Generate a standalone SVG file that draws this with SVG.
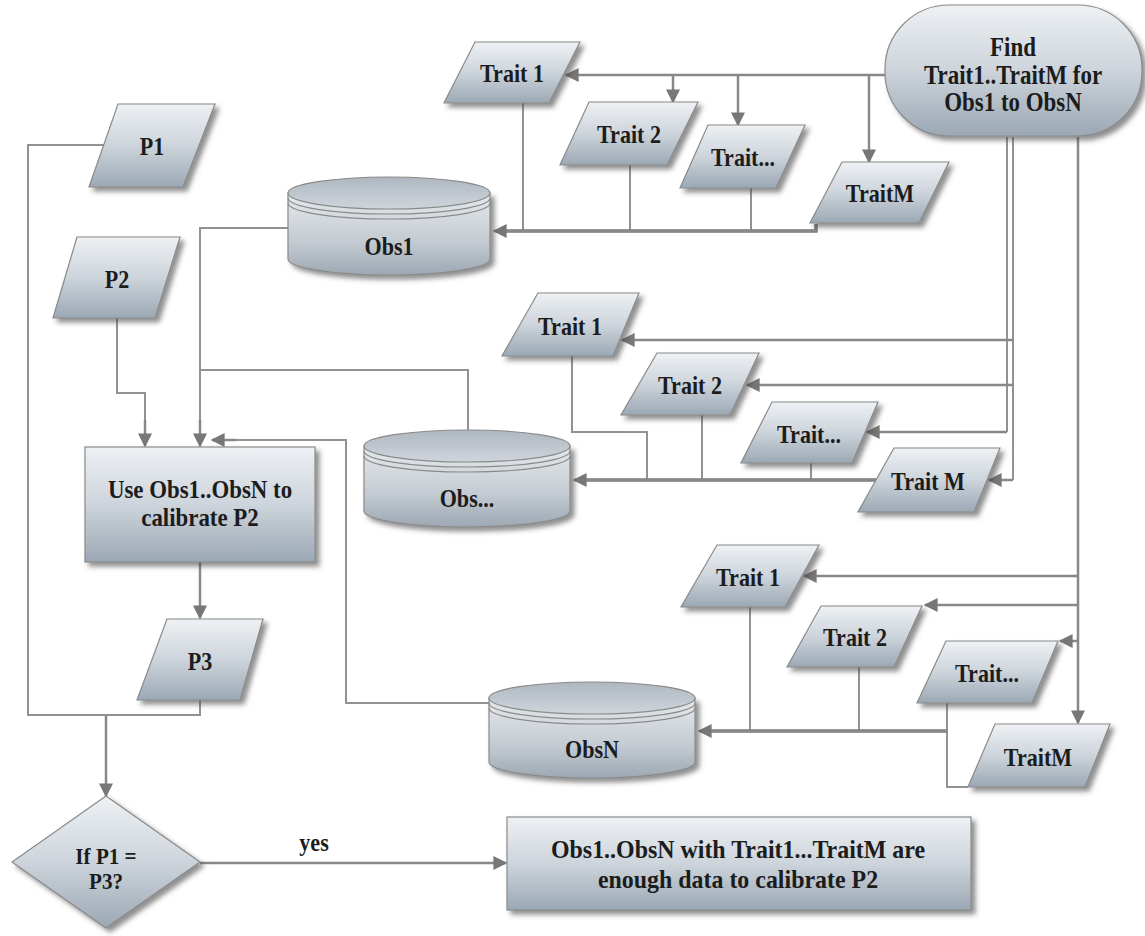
<svg xmlns="http://www.w3.org/2000/svg" width="1145" height="936" viewBox="0 0 1145 936">
<defs>
<linearGradient id="gShape" x1="0" y1="0" x2="0" y2="1">
<stop offset="0" stop-color="#eef1f4"/><stop offset="0.5" stop-color="#cdd4db"/><stop offset="1" stop-color="#9ba8b4"/>
</linearGradient>
<linearGradient id="gBody" x1="0" y1="0" x2="0" y2="1">
<stop offset="0" stop-color="#e6e9ec"/><stop offset="0.6" stop-color="#c3cad1"/><stop offset="1" stop-color="#9da8b3"/>
</linearGradient>
<linearGradient id="gTop" x1="0" y1="0" x2="0" y2="1">
<stop offset="0" stop-color="#aeb7c0"/><stop offset="1" stop-color="#cfd5db"/>
</linearGradient>
<filter id="sh" x="-10%" y="-10%" width="130%" height="140%">
<feDropShadow dx="4" dy="4" stdDeviation="2.5" flood-color="#444" flood-opacity="0.6"/>
</filter>
<marker id="ar" viewBox="0 0 10 10" refX="9" refY="5" markerWidth="17" markerHeight="14" markerUnits="userSpaceOnUse" orient="auto">
<path d="M0,0 L10,5 L0,10 Z" fill="#777"/>
</marker>
<style>
.s{fill:url(#gShape);stroke:#8a8a8a;stroke-width:1.2;filter:url(#sh)}
.body{fill:url(#gBody);stroke:#8a8a8a;stroke-width:1.2}
.top{fill:url(#gTop);stroke:#8a8a8a;stroke-width:1.2}
.ring{fill:none;stroke:#8a8a8a;stroke-width:1.2}
.t{font-family:"Liberation Serif","Times New Roman",serif;font-weight:bold;font-size:26px;fill:#1c1c1c;text-anchor:middle}
.c{fill:none;stroke:#929292;stroke-width:2}
.ck{fill:none;stroke:#7e7e7e;stroke-width:3.5}
.ca{fill:none;stroke:#888;stroke-width:2.5;marker-end:url(#ar)}
</style>
</defs>

<g id="connectors">
<path class="ca" d="M886 75 H566"/>
<path class="ca" d="M673 75 V102"/>
<path class="ca" d="M738 75 V125"/>
<path class="ca" d="M869 75 V162"/>
<path class="c" d="M523 103 V231"/>
<path class="c" d="M630 165 V231"/>
<path class="c" d="M751 188 V231"/>
<path class="ck" d="M816 224 V231 H500"/>
<path class="ca" d="M816 231 H494"/>
<path class="c" d="M1007 137 V432"/>
<path class="ca" d="M1007 432 H867"/>
<path class="c" d="M1013 137 V480"/>
<path class="ca" d="M1013 480 H989"/>
<path class="ca" d="M1013 340 H622"/>
<path class="ca" d="M1013 385 H747"/>
<path class="c" d="M572 356 V432 H647 V480"/>
<path class="c" d="M702 415 V480"/>
<path class="c" d="M811 463 V480"/>
<path class="ck" d="M876 480 H580"/>
<path class="ca" d="M876 480 H574"/>
<path class="ca" d="M1078 137 V723"/>
<path class="ca" d="M1078 576 H804"/>
<path class="ca" d="M1078 605 H925"/>
<path class="ca" d="M1078 641 H1060"/>
<path class="c" d="M750 607 V731"/>
<path class="c" d="M859 667 V731"/>
<path class="c" d="M947 703 V787 H968"/>
<path class="ck" d="M947 731 H705"/>
<path class="ca" d="M947 731 H699"/>
<path class="c" d="M288 228 H200 V430"/>
<path class="ca" d="M200 420 V446"/>
<path class="c" d="M468 430 V370 H200"/>
<path class="c" d="M489 703 H346 V440 H230"/>
<path class="ca" d="M236 440 H212"/>
<path class="c" d="M117 318 V393 H145 V430"/>
<path class="ca" d="M145 420 V446"/>
<path class="c" d="M104 145 H28 V715 H200 V700"/>
<path class="ca" d="M200 562 V618"/>
<path class="ca" d="M106 715 V796"/>
<path class="ca" d="M200 863 H506"/>
</g>

<g id="terminal-find">
<rect class="s" x="885" y="5" width="257" height="131" rx="64"/>
<text class="t" style="font-size:27px" transform="translate(1013,56) scale(.85,1)">Find</text>
<text class="t" style="font-size:27px" transform="translate(1013,84) scale(.85,1)">Trait1..TraitM for</text>
<text class="t" style="font-size:27px" transform="translate(1013,111) scale(.85,1)">Obs1 to ObsN</text>
</g>

<g id="trait1-a"><polygon class="s" points="475,42 580,42 549,103 444,103"/><text class="t" transform="translate(512,82) scale(.85,1)">Trait 1</text></g>
<g id="trait2-a"><polygon class="s" points="589,102 698,102 667,165 560,165"/><text class="t" transform="translate(629,143) scale(.85,1)">Trait 2</text></g>
<g id="traitx-a"><polygon class="s" points="708,125 805,125 776,188 680,188"/><text class="t" transform="translate(743,166) scale(.85,1)">Trait...</text></g>
<g id="traitm-a"><polygon class="s" points="842,162 949,162 919,223 810,223"/><text class="t" transform="translate(880,202) scale(.85,1)">TraitM</text></g>

<g id="obs1">
<path class="body" d="M288 193 V259 A101 16 0 0 0 490 259 V193 Z" filter="url(#sh)"/>
<ellipse class="top" cx="389" cy="193" rx="101" ry="16"/>
<path class="ring" d="M288 198 A101 16 0 0 0 490 198 M288 203 A101 16 0 0 0 490 203"/>
<text class="t" transform="translate(389,255) scale(.85,1)">Obs1</text>
</g>

<g id="trait1-b"><polygon class="s" points="538,293 639,293 613,356 502,356"/><text class="t" transform="translate(570,335) scale(.85,1)">Trait 1</text></g>
<g id="trait2-b"><polygon class="s" points="657,353 759,353 730,415 621,415"/><text class="t" transform="translate(690,394) scale(.85,1)">Trait 2</text></g>
<g id="traitx-b"><polygon class="s" points="772,402 878,402 852,463 741,463"/><text class="t" transform="translate(809,443) scale(.85,1)">Trait...</text></g>
<g id="traitm-b"><polygon class="s" points="894,448 1000,448 974,512 858,512"/><text class="t" transform="translate(928,490) scale(.85,1)">Trait M</text></g>

<g id="obs-mid">
<path class="body" d="M364 446 V511 A103 16 0 0 0 570 511 V446 Z" filter="url(#sh)"/>
<ellipse class="top" cx="467" cy="446" rx="103" ry="16"/>
<path class="ring" d="M364 451 A103 16 0 0 0 570 451 M364 456 A103 16 0 0 0 570 456"/>
<text class="t" transform="translate(467,507) scale(.85,1)">Obs...</text>
</g>

<g id="trait1-c"><polygon class="s" points="717,545 819,545 785,607 681,607"/><text class="t" transform="translate(748,586) scale(.85,1)">Trait 1</text></g>
<g id="trait2-c"><polygon class="s" points="821,606 922,606 894,667 787,667"/><text class="t" transform="translate(855,646) scale(.85,1)">Trait 2</text></g>
<g id="traitx-c"><polygon class="s" points="946,641 1058,641 1032,703 917,703"/><text class="t" transform="translate(987,682) scale(.85,1)">Trait...</text></g>
<g id="traitm-c"><polygon class="s" points="995,724 1110,724 1085,787 968,787"/><text class="t" transform="translate(1038,766) scale(.85,1)">TraitM</text></g>

<g id="obsn">
<path class="body" d="M489 698 V762 A103 16 0 0 0 695 762 V698 Z" filter="url(#sh)"/>
<ellipse class="top" cx="592" cy="698" rx="103" ry="16"/>
<path class="ring" d="M489 703 A103 16 0 0 0 695 703 M489 708 A103 16 0 0 0 695 708"/>
<text class="t" transform="translate(592,758) scale(.85,1)">ObsN</text>
</g>

<g id="p1"><polygon class="s" points="118,104 215,104 183,187 89,187"/><text class="t" transform="translate(152,155) scale(.85,1)">P1</text></g>
<g id="p2"><polygon class="s" points="77,237 180,237 155,318 53,318"/><text class="t" transform="translate(117,288) scale(.85,1)">P2</text></g>

<g id="use-box">
<rect class="s" x="85" y="447" width="230" height="115"/>
<text class="t" transform="translate(200,498) scale(.88,1)">Use Obs1..ObsN to</text>
<text class="t" transform="translate(200,526) scale(.88,1)">calibrate P2</text>
</g>

<g id="p3"><polygon class="s" points="167,619 263,619 240,700 137,700"/><text class="t" transform="translate(200,670) scale(.85,1)">P3</text></g>

<g id="decision">
<polygon class="s" points="106,796 200,862 106,928 12,862"/>
<text class="t" style="font-size:24px" transform="translate(106,864) scale(.88,1)">If P1 =</text>
<text class="t" style="font-size:24px" transform="translate(106,889) scale(.88,1)">P3?</text>
</g>

<text class="t" transform="translate(314,851) scale(.85,1)">yes</text>

<g id="result-box">
<rect class="s" x="507" y="817" width="464" height="93"/>
<text class="t" transform="translate(738,858) scale(.92,1)">Obs1..ObsN with Trait1...TraitM are</text>
<text class="t" transform="translate(738,888) scale(.92,1)">enough data to calibrate P2</text>
</g>
</svg>
